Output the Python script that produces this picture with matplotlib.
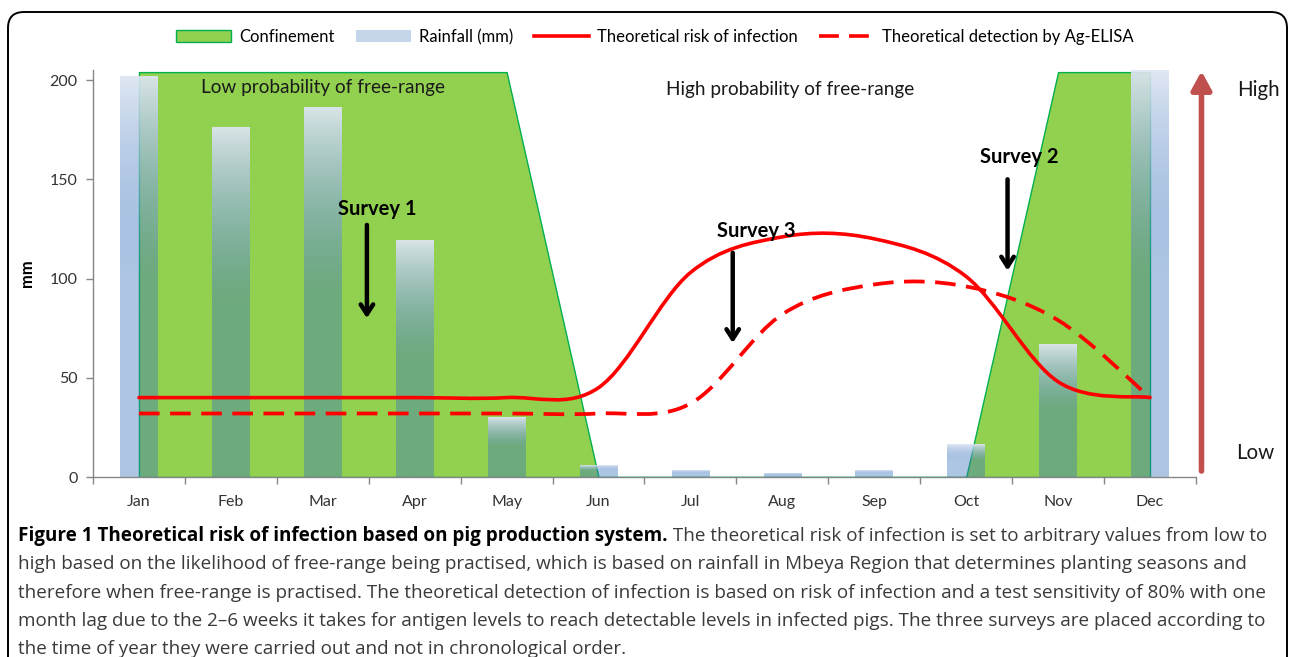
import numpy as np
import matplotlib
matplotlib.use('Agg')
from matplotlib import pyplot as plt
from matplotlib import font_manager
from matplotlib.path import Path
from matplotlib.patches import PathPatch, Patch, FancyBboxPatch
from matplotlib.lines import Line2D
from matplotlib.transforms import IdentityTransform

months = ['Jan', 'Feb', 'Mar', 'Apr', 'May', 'Jun', 'Jul', 'Aug', 'Sep', 'Oct', 'Nov', 'Dec']
rainfall = [202, 176, 186, 119, 30, 6, 3.5, 2, 3.5, 16.5, 67, 215]
confinement = [204, 204, 204, 204, 204, 0, 0, 0, 0, 0, 204, 204]
risk = [40, 40, 40, 40, 40, 45, 103, 121, 120, 101, 48, 40]
detection = [32, 32, 32, 32, 32, 32, 37, 82, 97, 96, 79, 40]

# survey arrows: label, x (month index), arrow top, arrow tip, label x, label y
surveys = [('Survey 1', 2.48, 127, 80, 2.59, 135),
           ('Survey 3', 6.46, 113, 67.5, 6.72, 124),
           ('Survey 2', 9.45, 150, 104, 9.58, 161)]

caption_bold = 'Figure 1 Theoretical risk of infection based on pig production system.'
caption_lines = [
    ' The theoretical risk of infection is set to arbitrary values from low to',
    'high based on the likelihood of free-range being practised, which is based on rainfall in Mbeya Region that determines planting seasons and',
    'therefore when free-range is practised. The theoretical detection of infection is based on risk of infection and a test sensitivity of 80% with one',
    'month lag due to the 2\u20136 weeks it takes for antigen levels to reach detectable levels in infected pigs. The three surveys are placed according to',
    'the time of year they were carried out and not in chronological order.',
]

GREEN = '#92D050'
GREEN_EDGE = '#00B050'
RED = '#FF0000'
ARROW_RED = '#C0504D'
AXIS_GRAY = '#868686'

avail = {f.name for f in font_manager.fontManager.ttflist}
chart_font = 'Lato' if 'Lato' in avail else 'DejaVu Sans'
cap_font = 'Open Sans' if 'Open Sans' in avail else 'DejaVu Sans'
plt.rcParams['font.family'] = [chart_font, 'DejaVu Sans']


def smooth_path(xs, ys):
    # Excel style smoothed line through the monthly points
    pts = list(zip(xs, ys))
    n = len(pts)
    verts = [pts[0]]
    codes = [Path.MOVETO]
    for i in range(n - 1):
        p0 = pts[i - 1] if i > 0 else pts[i]
        p1 = pts[i]
        p2 = pts[i + 1]
        p3 = pts[i + 2] if i + 2 < n else pts[i + 1]
        c1 = (p1[0] + (p2[0] - p0[0]) / 6, p1[1] + (p2[1] - p0[1]) / 6)
        c2 = (p2[0] - (p3[0] - p1[0]) / 6, p2[1] - (p3[1] - p1[1]) / 6)
        verts += [c1, c2, p2]
        codes += [Path.CURVE4] * 3
    return Path(verts, codes)


def gradient_image():
    top = np.array([0.87, 0.90, 0.95, 0.93])
    bottom = np.array([57 / 255, 116 / 255, 189 / 255, 0.41])
    rows = 200
    t = np.linspace(0, 1, rows)  # 0 = bottom, 1 = top
    f = np.clip((t - 0.5) / 0.5, 0, 1)[:, None]
    col = bottom * (1 - f) + top * f
    return np.repeat(col[:, None, :], 2, axis=1)


fig = plt.figure(figsize=(12.9, 6.57), dpi=100)
ax = fig.add_axes([0.0721, 0.27397, 0.8550, 0.6193])
ax.set_xlim(-0.5, 11.5)
ax.set_ylim(0, 205)

x = np.arange(len(months))
ax.fill_between(x, confinement, color=GREEN, edgecolor=GREEN_EDGE, linewidth=1.0, zorder=1)

bar_w = 0.41
bars = ax.bar(x, rainfall, width=bar_w, facecolor='none', edgecolor='none', zorder=2)
grad = gradient_image()
y_top = ax.get_ylim()[1]
for b in bars:
    h = min(b.get_height(), y_top)
    im = ax.imshow(grad, extent=[b.get_x(), b.get_x() + b.get_width(), 0, h],
                   origin='lower', aspect='auto', interpolation='bilinear', zorder=2)
    im.set_clip_path(ax.patch)

ax.add_patch(PathPatch(smooth_path(x, risk), fill=False, edgecolor=RED, linewidth=2.6,
                       capstyle='round', zorder=3))
ax.add_patch(PathPatch(smooth_path(x, detection), fill=False, edgecolor=RED, linewidth=2.7,
                       linestyle=(0, (5.5, 2.8)), zorder=3))

for label, ax_x, y0, y1, tx, ty in surveys:
    ax.annotate('', xy=(ax_x, y1), xytext=(ax_x, y0),
                arrowprops=dict(arrowstyle='->,head_length=0.7,head_width=0.45', color='black',
                                lw=3.2, shrinkA=0, shrinkB=0), zorder=5)
    ax.text(tx, ty, label, ha='center', va='center', fontsize=14.5, fontweight='bold', zorder=5)

ax.text(2.0, 196, 'Low probability of free-range', ha='center', va='center', fontsize=13.7, color='#1a1a1a')
ax.text(7.09, 195, 'High probability of free-range', ha='center', va='center', fontsize=13.7, color='#1a1a1a')

ax.set_xticks(x)
ax.set_xticklabels(months)
ax.set_xticks(np.arange(-0.5, 12, 1), minor=True)
ax.tick_params(axis='x', which='major', length=0, pad=13, labelsize=11.5, labelcolor='#333333')
ax.tick_params(axis='x', which='minor', length=5, color=AXIS_GRAY, width=1)
ax.set_yticks([0, 50, 100, 150, 200])
ax.tick_params(axis='y', length=5, color=AXIS_GRAY, width=1, pad=6, labelsize=11.5, labelcolor='#333333')
for s in ['top', 'right']:
    ax.spines[s].set_visible(False)
for s in ['left', 'bottom']:
    ax.spines[s].set_color(AXIS_GRAY)
    ax.spines[s].set_linewidth(1)
ax.set_ylabel('mm', fontsize=12, fontweight='bold')
ax.yaxis.set_label_coords(-0.053, 0.5)

# risk scale arrow on the right
ax.annotate('', xy=(11.56, 204.5), xytext=(11.56, 3),
            arrowprops=dict(arrowstyle='-|>,head_length=1.1,head_width=0.6', color=ARROW_RED,
                            lw=4, shrinkA=0, shrinkB=0), annotation_clip=False, zorder=5)
ax.text(12.18, 195, 'High', ha='center', va='center', fontsize=14.8, color='#1a1a1a')
ax.text(12.14, 12, 'Low', ha='center', va='center', fontsize=14.8, color='#1a1a1a')

handles = [Patch(facecolor=GREEN, edgecolor=GREEN_EDGE, linewidth=1.0),
           Patch(facecolor='#c6d6ea', edgecolor='none'),
           Line2D([], [], color=RED, lw=2.6),
           Line2D([], [], color=RED, lw=2.6, linestyle=(0, (5.5, 2.8)))]
labels = ['Confinement', 'Rainfall (mm)', 'Theoretical risk of infection', 'Theoretical detection by Ag-ELISA']
fig.legend(handles, labels, ncol=4, frameon=False, loc='center',
           bbox_to_anchor=(655 / 1290, 1 - 37 / 657), fontsize=12,
           handlelength=3.3, handleheight=0.75, handletextpad=0.45, columnspacing=1.3)

# caption: size picked so that the fourth line ends where it does in the figure
renderer = fig.canvas.get_renderer()
probe = fig.text(0, 0, caption_lines[3], fontsize=12, family=[cap_font, 'DejaVu Sans'])
probe_w = probe.get_window_extent(renderer).width
probe.remove()
cap_size = 12 * (1262 - 18) / probe_w

W, H = 1290, 657
line_h = 28.3
base_first = 541
t1 = fig.text(18 / W, 1 - base_first / H, caption_bold, fontsize=cap_size, fontweight='bold',
              family=[cap_font, 'DejaVu Sans'], va='baseline', color='black')
x_after = t1.get_window_extent(renderer).x1
fig.text(x_after / W, 1 - base_first / H, caption_lines[0], fontsize=cap_size,
         family=[cap_font, 'DejaVu Sans'], va='baseline', color='#3a3a3a')
for i, line in enumerate(caption_lines[1:], start=1):
    fig.text(18 / W, 1 - (base_first + i * line_h) / H, line, fontsize=cap_size,
             family=[cap_font, 'DejaVu Sans'], va='baseline', color='#3a3a3a')

# frame round the whole figure
frame = FancyBboxPatch((8, -30), 1279, H - 12 + 30,
                       boxstyle='round,pad=0,rounding_size=16', transform=IdentityTransform(),
                       facecolor='none', edgecolor='black', linewidth=1.4)
fig.patches.append(frame)

fig.savefig('out.png', dpi=100)
